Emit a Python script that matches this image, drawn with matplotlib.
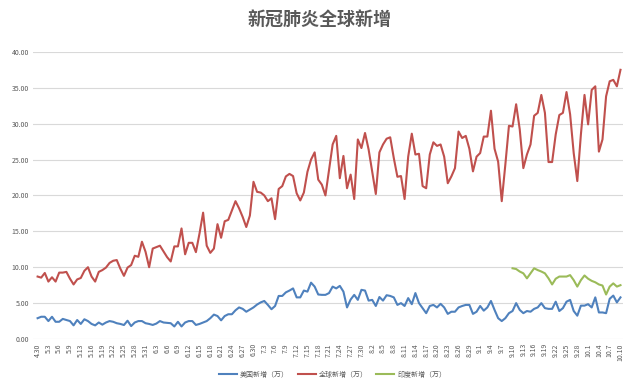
import pandas as pd
import matplotlib
matplotlib.use("Agg")
import matplotlib.pyplot as plt

plt.rcParams['font.family'] = ['Noto Sans CJK SC', 'DejaVu Sans']

# dates 4.30 - 10.10 (one day, 5.11, missing in source data)
days = pd.date_range("2020-04-30", "2020-10-10")
days = days[days != pd.Timestamp("2020-05-11")]
dates = [f"{d.month}.{d.day}" for d in days]

world = [8.7, 8.55, 9.2, 8.0, 8.6, 8.0, 9.25, 9.25, 9.35, 8.4,
         7.6, 8.3, 8.5, 9.5, 10.0, 8.7, 8.0, 9.35, 9.6, 9.95,
         10.6, 10.9, 11.0, 9.8, 8.8, 9.95, 10.3, 11.6, 11.45, 13.55,
         12.15, 10.0, 12.6, 12.8, 13.0, 12.2, 11.4, 10.8, 12.9, 12.9,
         15.4, 11.8, 13.4, 13.4, 12.1, 14.7, 17.6, 13.0, 12.0, 12.6,
         16.0, 14.1, 16.4, 16.6, 17.9, 19.2, 18.2, 17.0, 15.6, 17.2,
         21.9, 20.5, 20.4, 20.0, 19.2, 19.6, 16.7, 20.9, 21.3, 22.65,
         23.0, 22.7, 20.3, 19.3, 20.4, 23.3, 25.0, 26.0, 22.2, 21.5,
         20.0, 23.6, 27.1, 28.3, 22.4, 25.5, 21.0, 22.9, 19.5, 27.8,
         26.6, 28.7, 26.4, 23.3, 20.2, 26.0, 27.1, 27.9, 28.1, 25.2,
         22.6, 22.7, 19.5, 25.4, 28.6, 25.7, 25.8, 21.3, 21.0, 25.7,
         27.4, 26.9, 27.1, 25.4, 21.7, 22.65, 23.8, 28.9, 28.0, 28.3,
         26.5, 23.35, 25.4, 25.9, 28.2, 28.2, 31.8, 26.5, 24.7, 19.2,
         24.3, 29.7, 29.6, 32.7, 29.2, 23.8, 25.7, 27.1, 31.1, 31.5,
         34.0, 31.5, 24.65, 24.65, 28.5, 31.2, 31.5, 34.4, 31.3, 25.9,
         22.0, 28.5, 34.0, 29.9, 34.7, 35.2, 26.1, 27.8, 33.8, 35.9,
         36.1, 35.2, 37.5]

usa = [2.9, 3.1, 3.1, 2.5, 3.1, 2.4, 2.4, 2.8, 2.65, 2.5,
       1.9, 2.65, 2.1, 2.75, 2.5, 2.1, 1.9, 2.3, 2.0, 2.3,
       2.5, 2.4, 2.2, 2.1, 1.95, 2.55, 1.8, 2.3, 2.5, 2.5,
       2.2, 2.1, 1.96, 2.15, 2.5, 2.3, 2.25, 2.2, 1.75, 2.4,
       1.75, 2.3, 2.5, 2.5, 1.96, 2.1, 2.3, 2.5, 2.9, 3.4,
       3.2, 2.6, 3.2, 3.45, 3.45, 4.0, 4.4, 4.2, 3.8, 4.1,
       4.4, 4.8, 5.1, 5.3, 4.75, 4.15, 4.6, 6.0, 6.0, 6.5,
       6.75, 7.05, 5.8, 5.8, 6.75, 6.6, 7.85, 7.3, 6.2, 6.15,
       6.15, 6.4, 7.3, 7.05, 7.4, 6.6, 4.4, 5.5, 6.15, 5.45,
       6.85, 6.75, 5.35, 5.45, 4.6, 5.85, 5.35, 6.1, 6.0, 5.8,
       4.75, 5.0, 4.6, 5.7, 4.85, 6.4, 5.0, 4.3, 3.6, 4.6,
       4.75, 4.4, 4.9, 4.4, 3.5, 3.8, 3.8, 4.4, 4.6, 4.75,
       4.75, 3.5, 3.8, 4.6, 3.95, 4.4, 5.3, 4.05, 2.9, 2.5,
       2.9, 3.6, 3.9, 5.0, 4.05, 3.6, 3.9, 3.8, 4.2, 4.4,
       5.0, 4.3, 4.2, 4.2, 5.2, 3.9, 4.3, 5.2, 5.45, 3.9,
       3.25, 4.65, 4.65, 4.85, 4.4, 5.8, 3.7, 3.7, 3.6, 5.6,
       6.05, 5.1, 5.8]

# India series starts 9.10
india_start = "9.10"
india = [9.85, 9.75, 9.4, 9.15, 8.45, 9.15, 9.85, 9.6, 9.4, 9.15,
         8.45, 7.6, 8.4, 8.7, 8.7, 8.7, 8.9, 8.2, 7.3, 8.2,
         8.85, 8.4, 8.1, 7.9, 7.6, 7.45, 6.2, 7.3, 7.75, 7.3, 7.5]

x = list(range(len(dates)))
s = dates.index(india_start)
x_india = x[s:s + len(india)]

fig = plt.figure(figsize=(6.4, 3.87), dpi=100)
ax = fig.add_axes([0.052, 0.124, 0.922, 0.742])

ax.plot(x, usa, color="#4F81BD", lw=1.5, label="美国新增（万）")
ax.plot(x, world, color="#C0504D", lw=1.5, label="全球新增（万）")
ax.plot(x_india, india, color="#9BBB59", lw=1.5, label="印度新增（万）")

ax.set_ylim(0, 40)
ax.set_yticks(range(0, 41, 5))
ax.set_yticklabels([f"{v:.2f}" for v in range(0, 41, 5)])
ax.set_xlim(-1.2, len(dates) - 0.2)
ax.set_xticks(x[::3])
ax.set_xticklabels(dates[::3], rotation=90)
ax.tick_params(axis="both", length=0, labelsize=5, colors="#595959", pad=3)
ax.grid(axis="y", color="#D9D9D9", lw=0.8)
ax.set_axisbelow(True)
for sp in ax.spines.values():
    sp.set_visible(False)

fig.suptitle("新冠肺炎全球新增", x=0.5, y=0.975, fontsize=13,
             fontweight="bold", color="#595959")
fig.legend(loc="lower center", bbox_to_anchor=(0.52, 0.005), ncol=3,
           frameon=False, fontsize=5, labelcolor="#595959",
           handlelength=2.6, handletextpad=0.5, columnspacing=1.2)

fig.savefig("out.png", dpi=100)
